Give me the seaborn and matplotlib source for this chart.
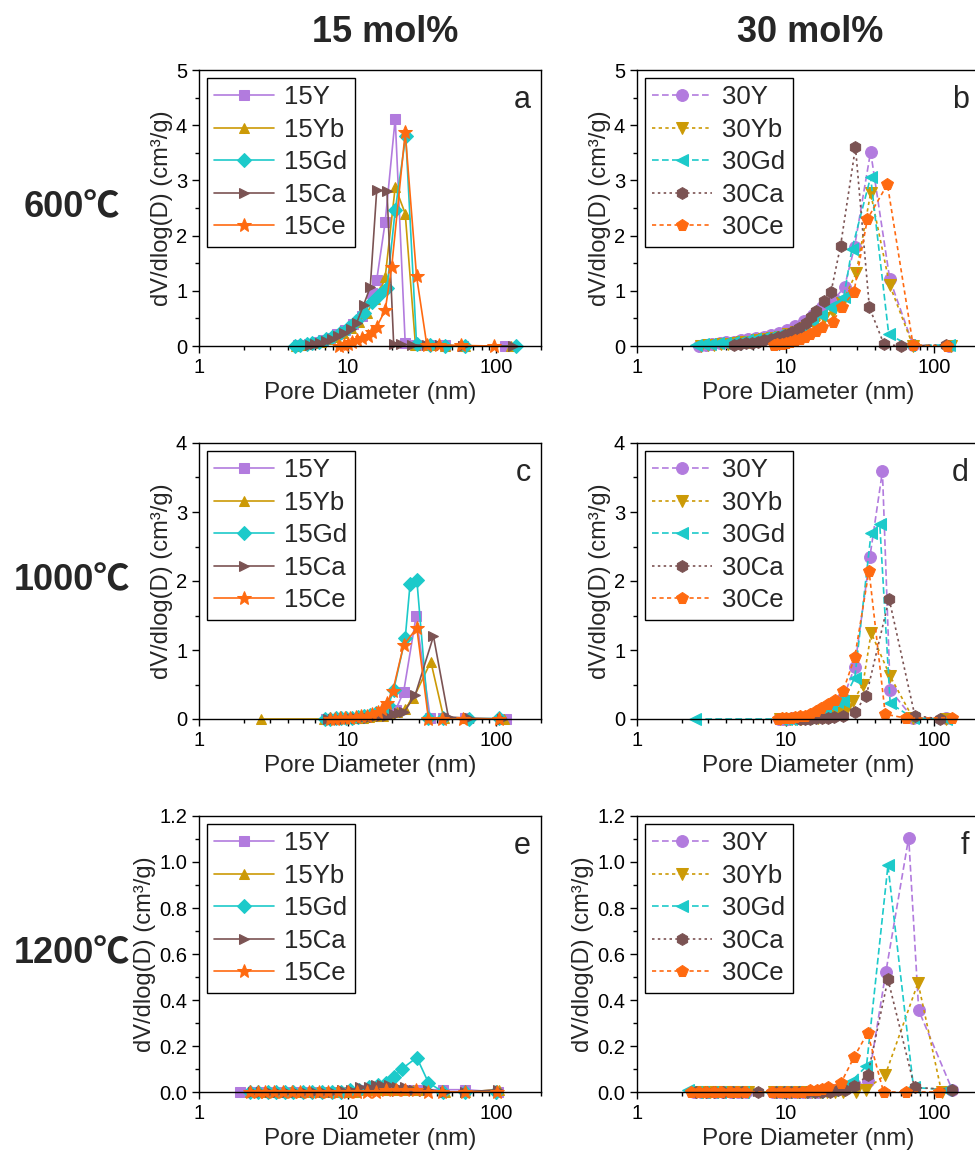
import numpy as np
import pandas as pd
import matplotlib
matplotlib.use("Agg")
import matplotlib.pyplot as plt
import matplotlib.ticker as mtick
import seaborn as sns

sns.set_theme(style="ticks")
plt.rcParams["font.family"] = ["Liberation Sans", "DejaVu Sans"]
plt.rcParams["axes.edgecolor"] = "black"
plt.rcParams["axes.linewidth"] = 1.0
plt.rcParams["xtick.color"] = "black"
plt.rcParams["ytick.color"] = "black"

# ---- data: pore size distributions, dV/dlog(D) vs D (nm) ----
# 600 C, 15 mol%
A_Y_D = [4.6, 5.0, 5.5, 6.1, 6.8, 7.6, 8.5, 9.6, 10.9, 12.4, 14.5, 15.7, 17.9, 20.9, 24.4, 29.0, 36.0, 45.0, 60.0, 115.0]
A_Y_V = [0.01, 0.02, 0.04, 0.07, 0.10, 0.15, 0.21, 0.29, 0.39, 0.55, 0.96, 1.20, 2.25, 4.12, 0.05, 0.02, 0.01, 0.01, 0.0, 0.0]
A_YB_D = [4.5, 4.9, 5.4, 6.0, 6.6, 7.4, 8.3, 9.3, 10.5, 11.9, 13.5, 15.2, 16.6, 17.9, 20.9, 24.4, 28.6, 36.0, 45.0, 62.0, 125.0]
A_YB_V = [0.0, 0.01, 0.03, 0.05, 0.08, 0.12, 0.17, 0.23, 0.32, 0.44, 0.60, 0.85, 1.00, 1.25, 2.88, 2.40, 0.02, 0.01, 0.0, 0.0, 0.0]
A_GD_D = [4.4, 4.8, 5.3, 5.8, 6.4, 7.1, 7.9, 8.9, 10.0, 11.3, 12.8, 14.5, 16.3, 18.4, 20.9, 24.6, 29.1, 36.0, 45.0, 62.0, 135.0]
A_GD_V = [0.0, 0.01, 0.03, 0.05, 0.08, 0.12, 0.17, 0.24, 0.33, 0.45, 0.60, 0.80, 0.92, 1.05, 2.46, 3.80, 0.03, 0.01, 0.0, 0.0, 0.0]
A_CA_D = [5.6, 6.0, 6.5, 7.1, 7.8, 8.6, 9.5, 10.5, 11.5, 12.8, 14.2, 15.7, 18.4, 20.4, 23.0, 27.0, 34.0, 42.0, 60.0, 130.0]
A_CA_V = [0.02, 0.04, 0.06, 0.09, 0.13, 0.18, 0.24, 0.31, 0.42, 0.74, 1.07, 2.83, 2.80, 0.04, 0.03, 0.02, 0.01, 0.01, 0.0, 0.0]
A_CE_D = [8.8, 9.4, 10.0, 10.7, 11.5, 12.4, 13.8, 14.6, 15.7, 17.9, 19.8, 24.4, 29.1, 34.1, 41.0, 58.0, 96.0]
A_CE_V = [0.0, 0.02, 0.04, 0.07, 0.10, 0.14, 0.18, 0.26, 0.35, 0.65, 1.44, 3.87, 1.26, 0.02, 0.02, 0.01, 0.0]

# 600 C, 30 mol%
B_Y_D = [2.6, 2.9, 3.2, 3.6, 4.0, 4.5, 5.0, 5.6, 6.3, 7.1, 8.0, 9.0, 10.2, 11.6, 13.2, 15.2, 17.6, 21.3, 24.9, 29.1, 37.3, 50.2, 72.0, 125.0]
B_Y_V = [0.0, 0.02, 0.04, 0.05, 0.07, 0.08, 0.10, 0.12, 0.14, 0.17, 0.20, 0.24, 0.29, 0.36, 0.45, 0.57, 0.70, 0.85, 1.07, 1.80, 3.52, 1.21, 0.02, 0.0]
B_YB_D = [2.7, 3.0, 3.3, 3.7, 4.1, 4.6, 5.1, 5.7, 6.4, 7.2, 8.1, 9.2, 10.4, 11.8, 13.5, 15.5, 18.0, 20.8, 24.0, 29.9, 37.3, 50.2, 72.0, 130.0]
B_YB_V = [0.0, 0.01, 0.02, 0.03, 0.04, 0.05, 0.07, 0.08, 0.10, 0.12, 0.14, 0.17, 0.21, 0.26, 0.32, 0.40, 0.50, 0.62, 0.78, 1.33, 2.77, 1.10, 0.0, 0.0]
B_GD_D = [2.5, 2.8, 3.1, 3.5, 3.9, 4.4, 4.9, 5.5, 6.2, 7.0, 7.9, 8.9, 10.1, 11.5, 13.1, 15.0, 17.3, 20.0, 22.0, 24.6, 27.9, 37.3, 49.4, 68.0, 125.0]
B_GD_V = [0.02, 0.03, 0.04, 0.05, 0.06, 0.07, 0.08, 0.10, 0.12, 0.14, 0.17, 0.20, 0.24, 0.30, 0.37, 0.46, 0.57, 0.70, 0.76, 0.88, 1.75, 3.06, 0.21, 0.01, 0.02]
B_CA_D = [4.5, 4.9, 5.4, 5.9, 6.5, 7.2, 8.0, 8.9, 9.9, 11.0, 12.3, 13.8, 14.9, 16.0, 18.0, 20.2, 23.4, 29.5, 36.6, 45.9, 60.0, 120.0]
B_CA_V = [0.02, 0.03, 0.05, 0.06, 0.08, 0.10, 0.13, 0.16, 0.20, 0.25, 0.32, 0.42, 0.52, 0.64, 0.82, 0.98, 1.81, 3.60, 0.70, 0.03, 0.0, 0.02]
B_CE_D = [8.3, 8.8, 9.4, 10.0, 10.7, 11.5, 12.4, 13.4, 14.6, 16.0, 17.7, 20.7, 23.9, 28.8, 35.5, 48.4, 72.0, 121.0]
B_CE_V = [0.02, 0.03, 0.04, 0.06, 0.08, 0.10, 0.13, 0.17, 0.21, 0.27, 0.35, 0.44, 0.70, 0.98, 2.30, 2.93, 0.02, 0.0]

# 1000 C, 15 mol%
C_Y_D = [7.2, 7.8, 8.5, 9.2, 10.0, 10.9, 11.9, 13.0, 14.3, 15.8, 17.5, 19.3, 21.0, 23.8, 28.9, 35.9, 44.0, 62.0, 117.0]
C_Y_V = [0.0, 0.0, 0.0, 0.01, 0.01, 0.02, 0.02, 0.03, 0.04, 0.05, 0.07, 0.10, 0.13, 0.39, 1.49, 0.02, 0.01, 0.01, 0.0]
C_YB_D = [2.6, 6.9, 7.5, 8.2, 8.9, 9.7, 10.6, 11.6, 12.7, 14.0, 15.5, 17.2, 19.2, 21.5, 24.2, 27.7, 36.3, 44.3, 62.0, 112.0]
C_YB_V = [0.0, 0.0, 0.0, 0.0, 0.01, 0.01, 0.01, 0.02, 0.02, 0.03, 0.04, 0.05, 0.07, 0.10, 0.15, 0.30, 0.83, 0.02, 0.01, 0.0]
C_GD_D = [7.0, 7.6, 8.3, 9.0, 9.8, 10.7, 11.7, 12.8, 14.1, 15.6, 17.3, 18.8, 20.4, 24.4, 26.3, 29.2, 35.0, 44.0, 66.0, 105.0]
C_GD_V = [0.0, 0.0, 0.01, 0.01, 0.02, 0.02, 0.03, 0.04, 0.06, 0.08, 0.12, 0.20, 0.42, 1.17, 1.95, 2.02, 0.01, 0.01, 0.0, 0.01]
C_CA_D = [7.4, 8.0, 8.7, 9.5, 10.4, 11.4, 12.5, 13.7, 15.1, 16.7, 18.5, 20.6, 22.0, 24.0, 28.5, 37.8, 47.6, 66.0, 110.0]
C_CA_V = [0.0, 0.0, 0.0, 0.0, 0.01, 0.01, 0.01, 0.02, 0.03, 0.04, 0.05, 0.07, 0.08, 0.10, 0.35, 1.20, 0.03, 0.01, 0.0]
C_CE_D = [7.6, 8.2, 8.9, 9.6, 10.4, 11.3, 12.3, 13.4, 14.6, 16.0, 17.0, 18.4, 20.1, 23.8, 29.2, 35.0, 43.0, 60.0, 105.0]
C_CE_V = [0.0, 0.0, 0.01, 0.01, 0.02, 0.03, 0.04, 0.05, 0.07, 0.10, 0.15, 0.23, 0.40, 1.07, 1.32, 0.0, 0.0, 0.0, 0.0]

# 1000 C, 30 mol%
D_Y_D = [9.0, 9.6, 10.3, 11.1, 12.0, 13.0, 14.2, 15.6, 17.2, 19.0, 21.4, 24.4, 29.2, 36.9, 44.8, 50.5, 72.0, 120.0]
D_Y_V = [0.0, 0.0, 0.0, 0.01, 0.01, 0.02, 0.03, 0.04, 0.06, 0.09, 0.15, 0.30, 0.76, 2.35, 3.59, 0.42, 0.01, 0.02]
D_YB_D = [9.2, 9.9, 10.7, 11.6, 12.6, 13.7, 15.0, 16.5, 18.2, 20.2, 22.6, 25.4, 28.5, 33.1, 37.6, 50.5, 72.0, 120.0]
D_YB_V = [0.0, 0.0, 0.0, 0.0, 0.0, 0.01, 0.01, 0.02, 0.03, 0.05, 0.09, 0.13, 0.26, 0.50, 1.25, 0.62, 0.01, 0.0]
D_GD_D = [2.47, 9.3, 10.0, 10.8, 11.7, 12.7, 13.8, 15.1, 16.6, 18.3, 20.3, 22.2, 24.4, 29.2, 37.6, 43.0, 50.5, 72.0, 120.0]
D_GD_V = [0.0, 0.0, 0.0, 0.0, 0.01, 0.01, 0.02, 0.03, 0.05, 0.08, 0.20, 0.24, 0.26, 0.60, 2.70, 2.82, 0.23, 0.01, 0.0]
D_CA_D = [12.5, 13.5, 14.7, 16.0, 17.5, 19.2, 21.2, 24.4, 29.2, 34.9, 49.7, 74.0, 109.0]
D_CA_V = [0.0, 0.0, 0.0, 0.01, 0.01, 0.02, 0.03, 0.05, 0.10, 0.34, 1.74, 0.05, 0.0]
D_CE_D = [8.9, 9.5, 10.1, 10.8, 11.6, 12.5, 13.5, 14.6, 15.9, 17.4, 19.2, 21.6, 24.4, 29.2, 36.4, 46.8, 65.0, 131.0]
D_CE_V = [0.0, 0.01, 0.01, 0.02, 0.03, 0.04, 0.05, 0.07, 0.12, 0.16, 0.22, 0.27, 0.41, 0.90, 2.15, 0.07, 0.01, 0.02]

# 1200 C, 15 mol%
E_Y_D = [1.9, 2.3, 2.6, 3.0, 3.4, 3.9, 4.5, 5.2, 6.0, 7.0, 8.1, 9.4, 10.9, 12.7, 14.8, 17.2, 20.0, 23.4, 27.4, 32.0, 44.0, 62.0, 103.0]
E_Y_V = [0.0, 0.0, 0.0, 0.0, 0.0, 0.0, 0.0, 0.0, 0.0, 0.0, 0.0, 0.0, 0.0, 0.01, 0.01, 0.01, 0.01, 0.01, 0.01, 0.01, 0.01, 0.01, 0.0]
E_YB_D = [2.2, 2.5, 2.8, 3.2, 3.6, 4.1, 4.7, 5.4, 6.2, 7.2, 8.3, 9.6, 11.1, 12.9, 15.0, 17.4, 20.2, 23.6, 27.6, 33.0, 45.0, 62.0, 104.0]
E_YB_V = [0.0, 0.0, 0.0, 0.0, 0.0, 0.0, 0.0, 0.0, 0.0, 0.0, 0.0, 0.0, 0.0, 0.01, 0.01, 0.01, 0.01, 0.01, 0.01, 0.01, 0.0, 0.0, 0.01]
E_GD_D = [2.2, 2.5, 2.9, 3.3, 3.8, 4.3, 5.0, 5.8, 6.7, 7.8, 9.0, 10.4, 12.0, 13.9, 16.0, 18.0, 20.5, 23.1, 29.2, 35.0, 44.0, 62.0, 100.0]
E_GD_V = [0.0, 0.0, 0.0, 0.0, 0.0, 0.0, 0.0, 0.0, 0.0, 0.0, 0.0, 0.01, 0.01, 0.02, 0.03, 0.04, 0.065, 0.10, 0.15, 0.04, 0.0, 0.0, 0.0]
E_CA_D = [2.3, 2.6, 3.0, 3.4, 3.9, 4.5, 5.2, 6.0, 6.9, 8.0, 9.2, 10.6, 12.2, 14.0, 15.5, 17.0, 19.0, 21.5, 24.5, 28.0, 35.0, 45.0, 62.0, 102.0]
E_CA_V = [0.0, 0.0, 0.0, 0.0, 0.0, 0.0, 0.0, 0.0, 0.0, 0.0, 0.01, 0.01, 0.02, 0.02, 0.03, 0.03, 0.03, 0.02, 0.02, 0.01, 0.01, 0.0, 0.0, 0.01]
E_CE_D = [2.2, 2.5, 2.8, 3.2, 3.7, 4.2, 4.8, 5.5, 6.4, 7.4, 8.6, 10.0, 11.6, 13.4, 15.5, 18.0, 21.0, 24.5, 29.0, 35.0, 43.0, 62.0, 101.0]
E_CE_V = [0.0, 0.0, 0.0, 0.0, 0.0, 0.0, 0.0, 0.0, 0.0, 0.0, 0.0, 0.0, 0.0, 0.0, 0.0, 0.01, 0.01, 0.01, 0.01, 0.0, 0.0, 0.0, 0.0]

# 1200 C, 30 mol%
F_Y_D = [2.4, 2.7, 3.0, 3.4, 3.8, 4.3, 4.8, 5.4, 8.2, 9.2, 10.3, 11.6, 13.0, 14.6, 16.4, 18.4, 20.7, 23.2, 26.1, 29.3, 36.0, 47.2, 67.3, 78.6, 132.0]
F_Y_V = [0.0, 0.0, 0.0, 0.0, 0.0, 0.0, 0.0, 0.0, 0.0, 0.0, 0.0, 0.0, 0.0, 0.0, 0.0, 0.01, 0.01, 0.015, 0.02, 0.03, 0.05, 0.52, 1.106, 0.355, 0.01]
F_YB_D = [2.5, 2.8, 3.1, 3.5, 3.9, 4.4, 5.0, 5.6, 8.4, 9.4, 10.6, 11.9, 13.4, 15.1, 17.0, 19.1, 21.5, 24.2, 29.6, 34.5, 46.8, 77.8, 112.0]
F_YB_V = [0.0, 0.0, 0.0, 0.0, 0.0, 0.0, 0.0, 0.0, 0.0, 0.0, 0.0, 0.0, 0.0, 0.0, 0.0, 0.0, 0.0, 0.0, 0.0, 0.01, 0.074, 0.475, 0.0]
F_GD_D = [2.2, 2.5, 2.8, 3.2, 3.6, 4.1, 4.6, 5.2, 8.0, 9.0, 10.1, 11.4, 12.8, 14.4, 16.2, 18.2, 20.5, 23.0, 25.8, 28.1, 35.0, 48.8, 72.5, 120.0]
F_GD_V = [0.01, 0.0, 0.0, 0.0, 0.0, 0.0, 0.0, 0.0, 0.0, 0.0, 0.0, 0.0, 0.0, 0.0, 0.0, 0.01, 0.01, 0.015, 0.03, 0.05, 0.113, 0.985, 0.02, 0.01]
F_CA_D = [2.5, 2.9, 3.3, 3.8, 4.4, 5.1, 6.5, 8.6, 9.7, 10.9, 12.3, 13.9, 15.7, 17.7, 20.0, 22.5, 25.0, 29.0, 35.6, 48.8, 73.7, 132.0]
F_CA_V = [0.0, 0.0, 0.0, 0.0, 0.0, 0.0, 0.0, 0.0, 0.0, 0.0, 0.0, 0.0, 0.0, 0.0, 0.0, 0.01, 0.01, 0.025, 0.072, 0.49, 0.02, 0.01]
F_CE_D = [2.3, 2.6, 2.9, 3.3, 3.7, 4.2, 4.7, 5.3, 8.1, 9.1, 10.2, 11.5, 12.9, 14.5, 16.3, 17.6, 19.3, 23.5, 29.0, 35.6, 45.6, 65.0, 108.0]
F_CE_V = [0.0, 0.0, 0.0, 0.0, 0.0, 0.0, 0.0, 0.0, 0.0, 0.0, 0.0, 0.0, 0.0, 0.01, 0.01, 0.015, 0.02, 0.038, 0.154, 0.257, 0.0, 0.0, 0.0]

ELEMENTS = ["Y", "Yb", "Gd", "Ca", "Ce"]
COLORS = ["#B27BDE", "#CC9A06", "#1CCACA", "#7B5353", "#FF6A10"]
MARKERS_15 = ["s", "^", "D", ">", "*"]
MARKERS_30 = ["o", "v", "<", "h", "p"]
STYLES_30 = [(0, (4, 2)), (0, (2, 2)), (0, (4, 2)), (0, (1.5, 2)), (0, (2.5, 2))]

PANELS = [
    ("a", "15", 5, [(A_Y_D, A_Y_V), (A_YB_D, A_YB_V), (A_GD_D, A_GD_V), (A_CA_D, A_CA_V), (A_CE_D, A_CE_V)]),
    ("b", "30", 5, [(B_Y_D, B_Y_V), (B_YB_D, B_YB_V), (B_GD_D, B_GD_V), (B_CA_D, B_CA_V), (B_CE_D, B_CE_V)]),
    ("c", "15", 4, [(C_Y_D, C_Y_V), (C_YB_D, C_YB_V), (C_GD_D, C_GD_V), (C_CA_D, C_CA_V), (C_CE_D, C_CE_V)]),
    ("d", "30", 4, [(D_Y_D, D_Y_V), (D_YB_D, D_YB_V), (D_GD_D, D_GD_V), (D_CA_D, D_CA_V), (D_CE_D, D_CE_V)]),
    ("e", "15", 1.2, [(E_Y_D, E_Y_V), (E_YB_D, E_YB_V), (E_GD_D, E_GD_V), (E_CA_D, E_CA_V), (E_CE_D, E_CE_V)]),
    ("f", "30", 1.2, [(F_Y_D, F_Y_V), (F_YB_D, F_YB_V), (F_GD_D, F_GD_V), (F_CA_D, F_CA_V), (F_CE_D, F_CE_V)]),
]
ROW_LABELS = ["600℃", "1000℃", "1200℃"]
COL_LABELS = ["15 mol%", "30 mol%"]

W, H = 975, 1161
fig = plt.figure(figsize=(W / 100, H / 100), dpi=100)

lefts = [199 / W, 637 / W]
bottoms = [1 - 346 / H, 1 - 719 / H, 1 - 1092 / H]
aw, ah = 342 / W, 276 / H

for i, (letter, conc, ymax, series) in enumerate(PANELS):
    row, col = divmod(i, 2)
    ax = fig.add_axes([lefts[col], bottoms[row], aw, ah])
    for k, (d, v) in enumerate(series):
        if conc == "15":
            mk, ls = MARKERS_15[k], "-"
            ms = 10.5 if mk == "*" else 7.5
        else:
            mk, ls = MARKERS_30[k], STYLES_30[k]
            ms = 8.5
        df = pd.DataFrame({"D": d, "V": v})
        sns.lineplot(data=df, x="D", y="V", ax=ax, sort=False, estimator=None,
                     color=COLORS[k], marker=mk, markersize=ms, markeredgecolor=COLORS[k],
                     linestyle=ls, linewidth=1.2, label=conc + ELEMENTS[k], clip_on=False)
    ax.set_xscale("log")
    ax.set_xlim(1, 200)
    ax.set_ylim(0, ymax)
    ax.set_xticks([1, 10, 100])
    ax.set_xticklabels(["1", "10", "100"])
    ax.xaxis.set_minor_locator(mtick.LogLocator(base=10, subs=np.arange(2, 10), numticks=20))
    ax.xaxis.set_minor_formatter(mtick.NullFormatter())
    if ymax > 2:
        ax.yaxis.set_major_locator(mtick.MultipleLocator(1))
        ax.yaxis.set_minor_locator(mtick.MultipleLocator(0.5))
    else:
        ax.yaxis.set_major_locator(mtick.MultipleLocator(0.2))
        ax.yaxis.set_minor_locator(mtick.MultipleLocator(0.1))
        ax.yaxis.set_major_formatter(mtick.FormatStrFormatter("%.1f"))
    ax.tick_params(axis="both", which="major", direction="out", length=5, width=1,
                   labelsize=14.5, top=False, right=False)
    ax.tick_params(axis="both", which="minor", direction="out", length=3, width=1,
                   top=False, right=False)
    ax.set_xlabel("Pore Diameter (nm)", fontsize=17.5, labelpad=4)
    ax.set_ylabel("dV/dlog(D) (cm³/g)", fontsize=17, labelpad=2)
    for sp in ax.spines.values():
        sp.set_visible(True)
        sp.set_color("black")
    ax.text(0.97, 0.89, letter, transform=ax.transAxes, ha="right", va="center", fontsize=22)
    leg = ax.legend(loc="upper left", bbox_to_anchor=(0.0, 1.0), fontsize=18.5,
                    frameon=True, fancybox=False, framealpha=1, edgecolor="black",
                    handlelength=2.3, handletextpad=0.4, labelspacing=0.33,
                    borderpad=0.3, borderaxespad=0.3)
    leg.get_frame().set_linewidth(1.0)

for r, lab in enumerate(ROW_LABELS):
    yc = bottoms[r] + ah / 2
    fig.text(72 / W, yc, lab, ha="center", va="center", fontsize=26, fontweight="bold",
             family=["Liberation Sans", "Noto Sans CJK SC", "DejaVu Sans"])

fig.text(385 / W, 1 - 33 / H, COL_LABELS[0], ha="center", va="center", fontsize=26, fontweight="bold")
fig.text(810 / W, 1 - 33 / H, COL_LABELS[1], ha="center", va="center", fontsize=26, fontweight="bold")

fig.savefig("out.png", dpi=100)
